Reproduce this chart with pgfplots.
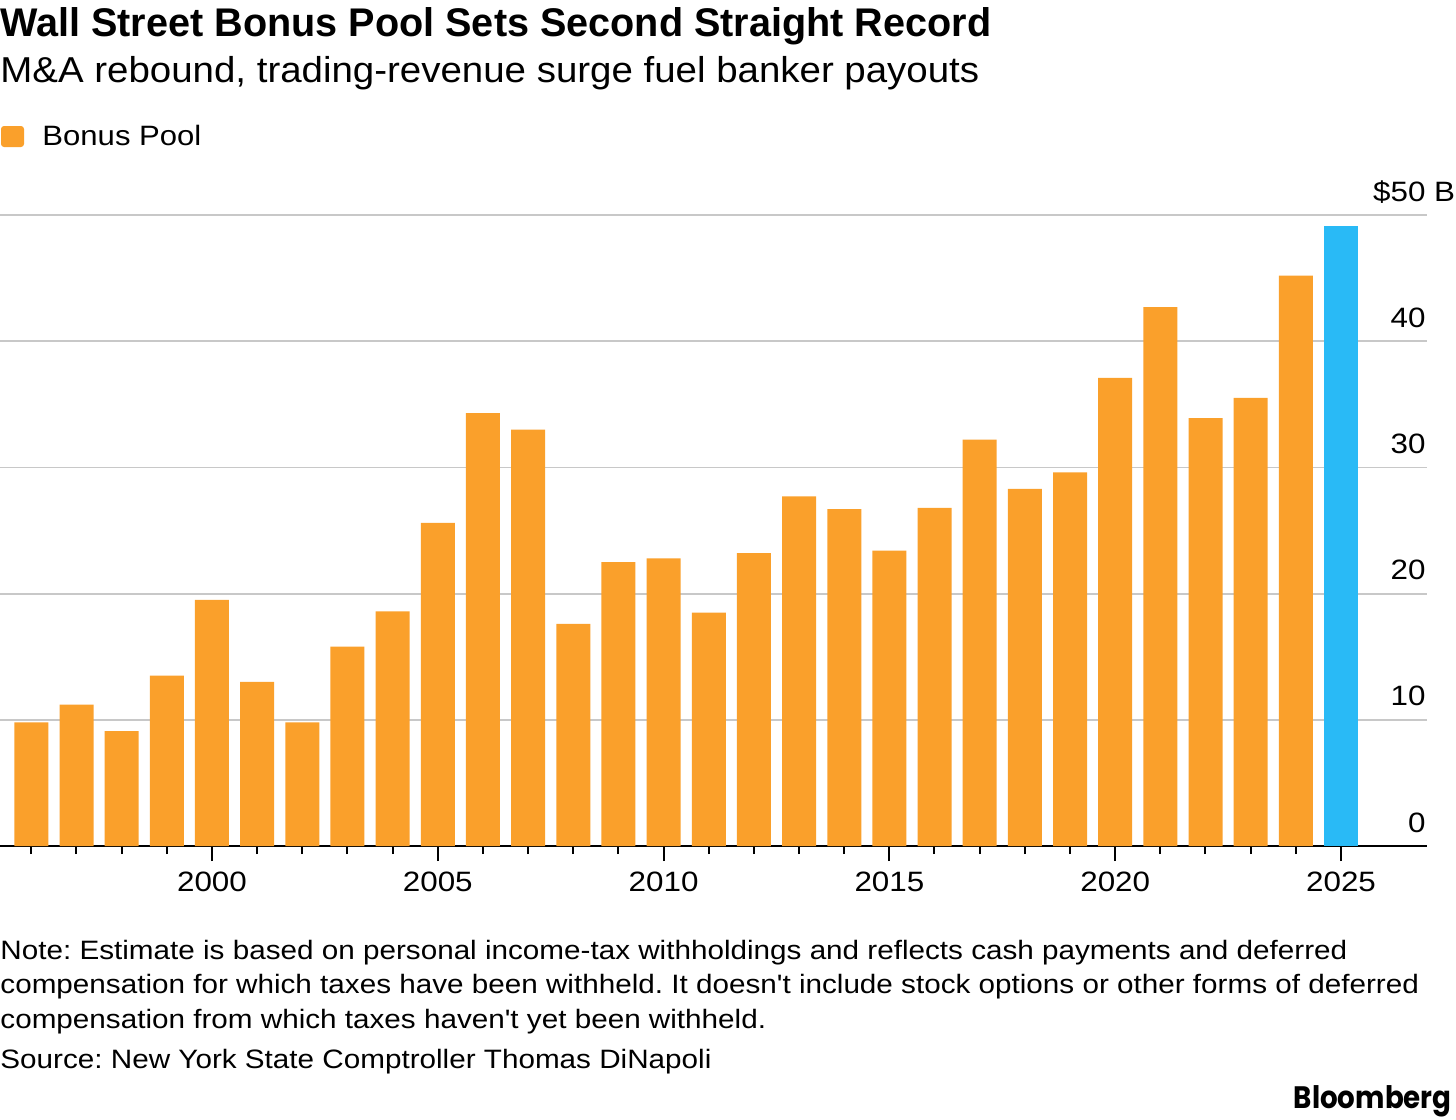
\documentclass[border=0pt]{standalone}
\usepackage{pgfplots}
\pgfplotsset{compat=1.18}
\usepackage{pgfplotstable}
\usepackage{fontspec}
\setmainfont{Liberation Sans}
\newfontfamily\logofont{Poppins}

\definecolor{bbOrange}{HTML}{FAA02B}
\definecolor{bbBlue}{HTML}{29BAF6}
\definecolor{gridGray}{HTML}{C8C8C8}

% Wall Street bonus pool, billions of dollars
\pgfplotstableread{
year pool
1996 9.8
1997 11.2
1998 9.1
1999 13.5
2000 19.5
2001 13.0
2002 9.8
2003 15.8
2004 18.6
2005 25.6
2006 34.3
2007 33.0
2008 17.6
2009 22.5
2010 22.8
2011 18.5
2012 23.2
2013 27.7
2014 26.7
2015 23.4
2016 26.8
2017 32.2
2018 28.3
2019 29.6
2020 37.1
2021 42.7
2022 33.9
2023 35.5
2024 45.2
}\poolhist

% latest year, highlighted
\pgfplotstableread{
year pool
2025 49.1
}\poolnew

\begin{document}
\frenchspacing
\begin{tikzpicture}
\useasboundingbox (0,0) rectangle (728pt,-559.5pt);

% headline and deck
\node[anchor=base west, inner sep=0pt, xscale=0.99, font=\fontsize{20}{24}\selectfont\bfseries]
  at (0,-18pt) {Wall Street Bonus Pool Sets Second Straight Record};
\node[anchor=base west, inner sep=0pt, xscale=1.068, font=\fontsize{18}{22}\selectfont]
  at (0,-41pt) {M\&A rebound, trading-revenue surge fuel banker payouts};

% legend
\fill[bbOrange, rounded corners=1.5pt] (0.5pt,-63pt) rectangle (12pt,-73.5pt);
\node[anchor=base west, inner sep=0pt, xscale=1.11, font=\fontsize{14}{16}\selectfont]
  at (21pt,-72.5pt) {Bonus Pool};

\begin{axis}[
  at={(0pt,-423pt)}, anchor=south west,
  scale only axis, width=713.5pt, height=315.5pt,
  xmin=1995.306, xmax=2026.904, ymin=0, ymax=50,
  axis x line*=bottom, axis y line*=right,
  x axis line style={black, line width=1pt},
  y axis line style={draw=none},
  ybar, bar width=17pt,
  xtick={2000,2005,...,2025},
  xticklabels={2000,2005,2010,2015,2020,2025},
  minor xtick={1996,...,2024},
  tick align=outside,
  major tick length=7.5pt, minor tick length=4pt,
  xtick style={black, line width=1pt},
  ytick={0,10,...,50},
  yticklabels={0,10,20,30,40,{\$50\rlap{ B}}},
  ytick style={draw=none},
  ymajorgrids,
  major grid style={gridGray, line width=0.9pt},
  tick label style={font=\fontsize{14}{16}\selectfont},
  xticklabel style={yshift=-2pt, xscale=1.12},
  yticklabel style={anchor=base east, inner sep=0pt, xshift=-8pt, yshift=7pt, xscale=1.12},
  clip=false,
]
\addplot[fill=bbOrange, draw=none, bar shift=0pt] table[x=year, y=pool] {\poolhist};
\addplot[fill=bbBlue, draw=none, bar shift=0pt] table[x=year, y=pool] {\poolnew};
\end{axis}

% notes and source
\begin{scope}[every node/.style={anchor=base west, inner sep=0pt, xscale=1.115, font=\fontsize{13.3}{16}\selectfont}]
\node at (0,-479.5pt) {Note: Estimate is based on personal income-tax withholdings and reflects cash payments and deferred};
\node at (0,-496.5pt) {compensation for which taxes have been withheld. It doesn\textquotesingle t include stock options or other forms of deferred};
\node at (0,-514pt) {compensation from which taxes haven\textquotesingle t yet been withheld.};
\node at (0,-534pt) {Source: New York State Comptroller Thomas DiNapoli};
\end{scope}

\node[anchor=base east, inner sep=0pt, xscale=0.895, font=\logofont\bfseries\fontsize{15.5}{18}\selectfont]
  at (726pt,-554pt) {Bloomberg};
\end{tikzpicture}
\end{document}
